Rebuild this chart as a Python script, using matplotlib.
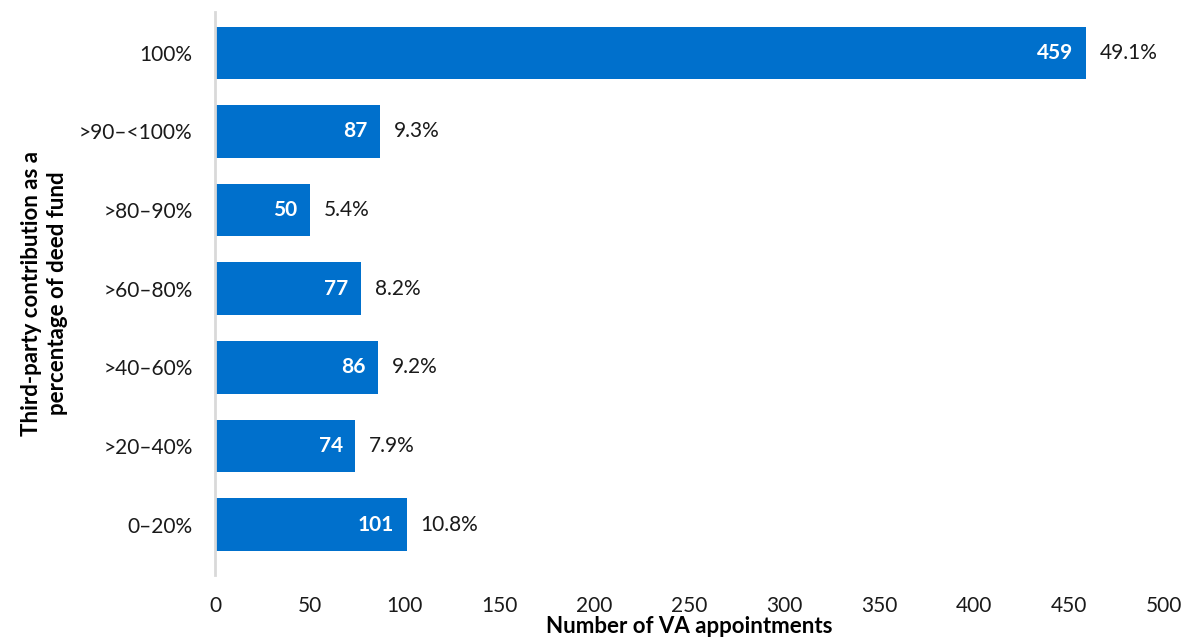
import matplotlib.pyplot as plt
import numpy as np

categories = ["0–20%", ">20–40%", ">40–60%", ">60–80%", ">80–90%", ">90–<100%", "100%"]
counts = [101, 74, 86, 77, 50, 87, 459]
shares = ["10.8%", "7.9%", "9.2%", "8.2%", "5.4%", "9.3%", "49.1%"]

plt.rcParams["font.family"] = ["Lato", "DejaVu Sans"]

fig = plt.figure(figsize=(11.81, 6.4), dpi=100)
ax = fig.add_axes([0.182, 0.1016, 0.8036, 0.8797])

y = np.arange(len(categories))
bars = ax.barh(y, counts, height=0.67, color="#0070CC")

for b, n, s in zip(bars, counts, shares):
    cy = b.get_y() + b.get_height() / 2
    ax.annotate(str(n), (b.get_width(), cy), xytext=(-9, 0), textcoords="offset points",
                ha="right", va="center", color="white", fontsize=15, fontweight="bold")
    ax.annotate(s, (b.get_width(), cy), xytext=(10, 0), textcoords="offset points",
                ha="left", va="center", color="#1a1a1a", fontsize=15)

ax.set_xlim(0, 500)
ax.set_xticks(np.arange(0, 501, 50))
ax.set_ylim(-0.64, 6.52)
ax.set_yticks(y)
ax.set_yticklabels(categories)

for side in ["top", "right", "bottom"]:
    ax.spines[side].set_visible(False)
ax.spines["left"].set_color("#D9D9D9")
ax.spines["left"].set_linewidth(2)

ax.tick_params(axis="both", length=0, labelsize=15, colors="#1a1a1a")
ax.tick_params(axis="x", pad=15)
ax.tick_params(axis="y", pad=16)

ax.set_xlabel("Number of VA appointments", fontsize=16, fontweight="bold", labelpad=0)
ax.set_ylabel("Third-party contribution as a\npercentage of deed fund", fontsize=16,
              fontweight="bold", labelpad=8, linespacing=1.3)

fig.savefig("out.png", dpi=100)
